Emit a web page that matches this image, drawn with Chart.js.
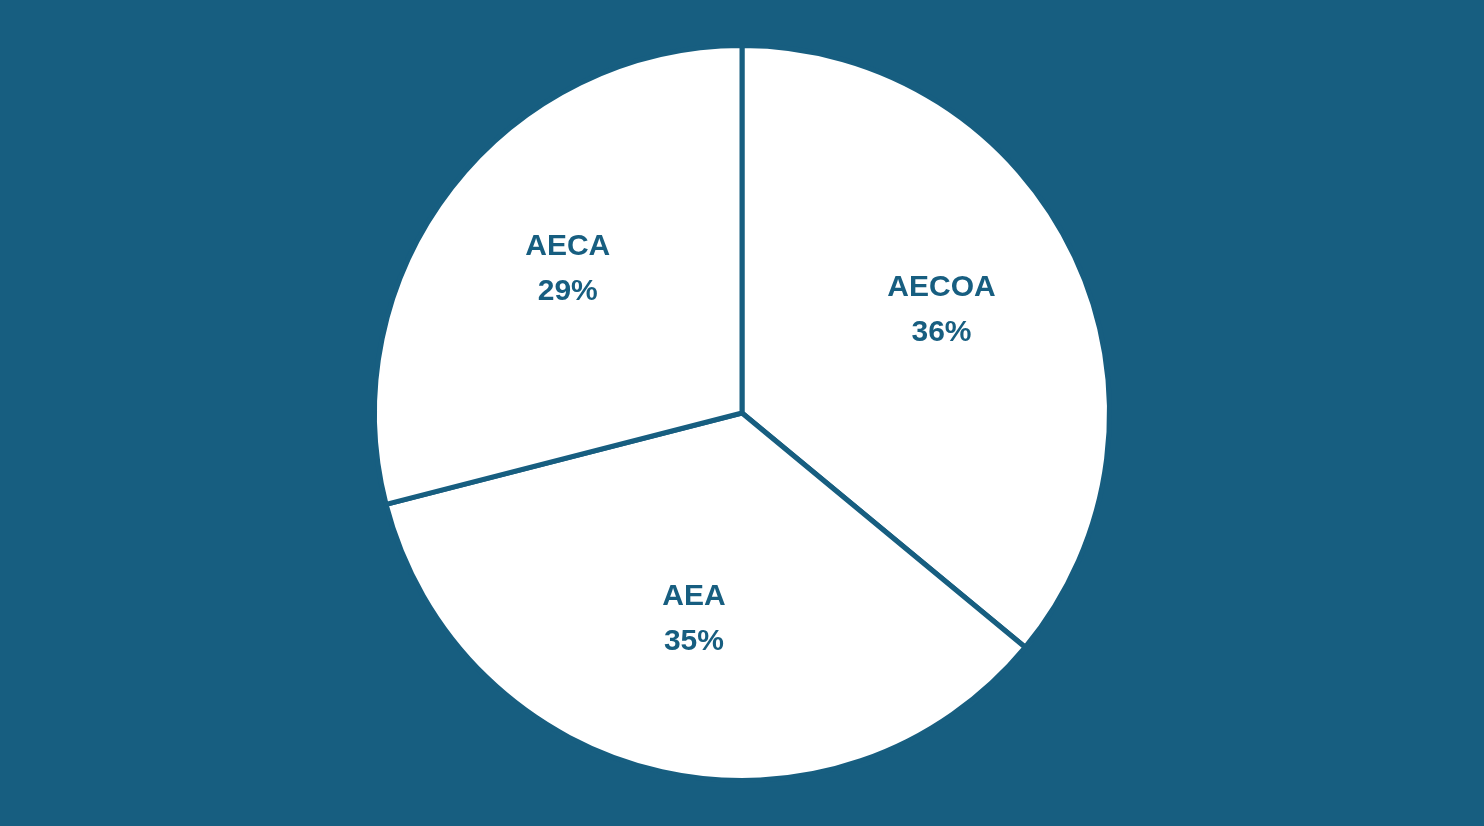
<!DOCTYPE html>
<html lang="en">
<head>
    <meta charset="UTF-8">
    <title>AEA Share Pie</title>
    <style>
        html, body {
            margin: 0;
            padding: 0;
            background-color: #175e80;
        }

        .chart-container {
            width: 1484px;
            height: 826px;
        }
    </style>
</head>
<body>
    <div class="chart-container">
        <canvas id="shareChart"></canvas>
    </div>

    <script src="https://cdn.jsdelivr.net/npm/chart.js"></script>

    <script>
        // Slice data, clockwise from the top
        const categories = ['AECOA', 'AEA', 'AECA'];
        const shares = [36, 35, 29];

        const blue = '#175e80';

        // Draw "name / pct%" inside each slice
        const sliceLabels = {
            id: 'sliceLabels',
            afterDatasetsDraw(chart) {
                const ctx = chart.ctx;
                const meta = chart.getDatasetMeta(0);
                ctx.save();
                ctx.fillStyle = blue;
                ctx.font = 'bold 30px "Liberation Sans", Arial, sans-serif';
                ctx.textAlign = 'center';
                ctx.textBaseline = 'middle';
                meta.data.forEach((arc, i) => {
                    const mid = (arc.startAngle + arc.endAngle) / 2;
                    const r = arc.outerRadius * 0.6;
                    const x = arc.x + Math.cos(mid) * r;
                    const y = arc.y + Math.sin(mid) * r - 9;
                    ctx.fillText(categories[i], x, y - 22);
                    ctx.fillText(shares[i] + '%', x, y + 23);
                });
                ctx.restore();
            }
        };

        const ctx = document.getElementById('shareChart').getContext('2d');
        new Chart(ctx, {
            type: 'pie',
            data: {
                labels: categories,
                datasets: [{
                    data: shares,
                    backgroundColor: '#ffffff',
                    borderColor: blue,
                    borderWidth: 5
                }]
            },
            options: {
                responsive: true,
                maintainAspectRatio: false,
                animation: false,
                layout: {
                    padding: { top: 43, bottom: 43 }
                },
                plugins: {
                    legend: { display: false },
                    tooltip: { enabled: false }
                }
            },
            plugins: [sliceLabels]
        });
    </script>
</body>
</html>
